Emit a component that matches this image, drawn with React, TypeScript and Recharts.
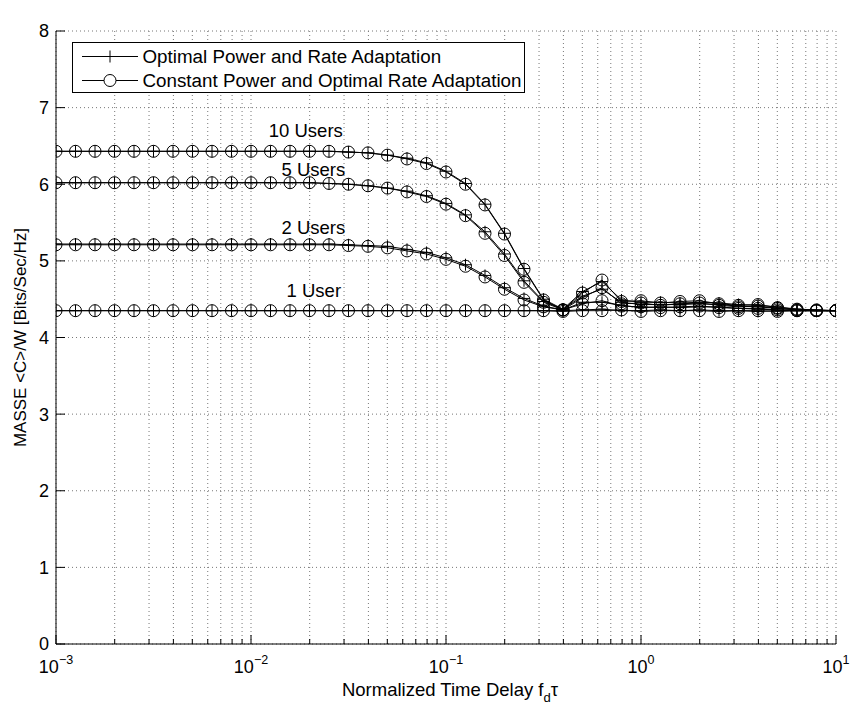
import React from 'react';
import { LineChart, Line, XAxis, YAxis, CartesianGrid, Legend, ReferenceDot } from 'recharts';

const FONT = '"Liberation Sans", Arial, Helvetica, sans-serif';

// Normalized time delay f_d*tau (log spaced samples)
const delays = [
  0.001, 0.001259, 0.001585, 0.001995, 0.002512, 0.003162, 0.003981, 0.005012, 0.00631, 0.007943,
  0.01, 0.01259, 0.01585, 0.01995, 0.02512, 0.03162, 0.03981, 0.05012, 0.0631, 0.07943,
  0.1, 0.1259, 0.1585, 0.1995, 0.2512, 0.3162, 0.3981, 0.5012, 0.631, 0.7943,
  1, 1.259, 1.585, 1.995, 2.512, 3.162, 3.981, 5.012, 6.31, 7.943, 10,
];

// Constant Power and Optimal Rate Adaptation
const users10Const = [
  6.43, 6.43, 6.43, 6.43, 6.43, 6.43, 6.43, 6.43, 6.43, 6.43, 6.43, 6.43, 6.43, 6.43,
  6.43, 6.42, 6.41, 6.38, 6.33, 6.27, 6.16, 6.0, 5.73, 5.35, 4.89, 4.49, 4.36,
  4.58, 4.75, 4.47, 4.48, 4.45, 4.47, 4.48, 4.44, 4.42, 4.43, 4.39, 4.37, 4.36, 4.35,
];
const users5Const = [
  6.02, 6.02, 6.02, 6.02, 6.02, 6.02, 6.02, 6.02, 6.02, 6.02, 6.02, 6.02, 6.02, 6.02,
  6.01, 6.0, 5.98, 5.95, 5.9, 5.84, 5.74, 5.59, 5.36, 5.07, 4.72, 4.46, 4.36,
  4.52, 4.65, 4.44, 4.45, 4.42, 4.44, 4.45, 4.42, 4.4, 4.41, 4.38, 4.36, 4.35, 4.35,
];
const users2Const = [
  5.21, 5.21, 5.21, 5.21, 5.21, 5.21, 5.21, 5.21, 5.21, 5.21, 5.21, 5.21, 5.21, 5.21,
  5.21, 5.2, 5.19, 5.17, 5.13, 5.09, 5.02, 4.93, 4.79, 4.63, 4.49, 4.4, 4.36,
  4.44, 4.48, 4.41, 4.4, 4.39, 4.4, 4.41, 4.39, 4.38, 4.38, 4.36, 4.35, 4.35, 4.35,
];
const users1Const = [
  4.35, 4.35, 4.35, 4.35, 4.35, 4.35, 4.35, 4.35, 4.35, 4.35, 4.35, 4.35, 4.35, 4.35,
  4.35, 4.35, 4.35, 4.35, 4.35, 4.35, 4.35, 4.35, 4.35, 4.35, 4.35, 4.35, 4.34,
  4.35, 4.35, 4.36, 4.34, 4.35, 4.35, 4.35, 4.34, 4.35, 4.35, 4.34, 4.35, 4.35, 4.35,
];

// Optimal Power and Rate Adaptation
const users10Opt = [
  6.43, 6.43, 6.43, 6.43, 6.43, 6.43, 6.43, 6.43, 6.43, 6.43, 6.43, 6.43, 6.43, 6.43,
  6.43, 6.42, 6.41, 6.38, 6.34, 6.28, 6.17, 6.01, 5.74, 5.36, 4.9, 4.5, 4.37,
  4.6, 4.73, 4.49, 4.46, 4.46, 4.45, 4.46, 4.45, 4.43, 4.42, 4.4, 4.37, 4.36, 4.35,
];
const users5Opt = [
  6.02, 6.02, 6.02, 6.02, 6.02, 6.02, 6.02, 6.02, 6.02, 6.02, 6.02, 6.02, 6.02, 6.02,
  6.01, 6.0, 5.98, 5.95, 5.91, 5.85, 5.75, 5.6, 5.38, 5.09, 4.74, 4.47, 4.37,
  4.54, 4.63, 4.46, 4.43, 4.43, 4.43, 4.44, 4.43, 4.41, 4.4, 4.38, 4.36, 4.35, 4.35,
];
const users2Opt = [
  5.22, 5.22, 5.22, 5.22, 5.22, 5.22, 5.22, 5.22, 5.22, 5.22, 5.22, 5.22, 5.22, 5.22,
  5.22, 5.21, 5.2, 5.19, 5.15, 5.11, 5.04, 4.95, 4.81, 4.65, 4.51, 4.41, 4.36,
  4.46, 4.46, 4.42, 4.39, 4.4, 4.39, 4.4, 4.4, 4.38, 4.37, 4.36, 4.35, 4.35, 4.35,
];
const users1Opt = [
  4.35, 4.35, 4.35, 4.35, 4.35, 4.35, 4.35, 4.35, 4.35, 4.35, 4.35, 4.35, 4.35, 4.35,
  4.35, 4.35, 4.35, 4.35, 4.35, 4.35, 4.35, 4.35, 4.35, 4.35, 4.35, 4.35, 4.35,
  4.36, 4.37, 4.35, 4.35, 4.36, 4.35, 4.36, 4.35, 4.35, 4.34, 4.35, 4.35, 4.35, 4.35,
];

const xTicks = [
  0.001, 0.002, 0.003, 0.004, 0.005, 0.006, 0.007, 0.008, 0.009,
  0.01, 0.02, 0.03, 0.04, 0.05, 0.06, 0.07, 0.08, 0.09,
  0.1, 0.2, 0.3, 0.4, 0.5, 0.6, 0.7, 0.8, 0.9,
  1, 2, 3, 4, 5, 6, 7, 8, 9, 10,
];
const xMajorTicks = [0.001, 0.01, 0.1, 1, 10];
const xMajorExponents = ['\u22123', '\u22122', '\u22121', '0', '1'];
const yTicks = [0, 1, 2, 3, 4, 5, 6, 7, 8];

const curveLabels = [
  { text: '10 Users', x: 0.0191, y: 6.7 },
  { text: '5 Users', x: 0.0209, y: 6.19 },
  { text: '2 Users', x: 0.0209, y: 5.44 },
  { text: '1 User', x: 0.021, y: 4.61 },
];

const seriesKeys = [
  { key: 'o10', values: users10Opt, marker: 'plus' },
  { key: 'c10', values: users10Const, marker: 'circle' },
  { key: 'o5', values: users5Opt, marker: 'plus' },
  { key: 'c5', values: users5Const, marker: 'circle' },
  { key: 'o2', values: users2Opt, marker: 'plus' },
  { key: 'c2', values: users2Const, marker: 'circle' },
  { key: 'o1', values: users1Opt, marker: 'plus' },
  { key: 'c1', values: users1Const, marker: 'circle' },
];

const data = delays.map((x, i) => {
  const row: Record<string, number> = { x };
  seriesKeys.forEach((s) => {
    row[s.key] = s.values[i];
  });
  return row;
});

const PlusDot = (p: any) => {
  if (p.cx == null || p.cy == null) return <g key={p.index} />;
  return (
    <path
      key={p.index}
      d={`M${p.cx - 6},${p.cy}h12M${p.cx},${p.cy - 6}v12`}
      stroke="#000"
      strokeWidth={1}
      fill="none"
    />
  );
};
const CircleDot = (p: any) => {
  if (p.cx == null || p.cy == null) return <g key={p.index} />;
  return <circle key={p.index} cx={p.cx} cy={p.cy} r={6} fill="none" stroke="#000" strokeWidth={1} />;
};

const BottomTick = (p: any) => {
  const { x, y, payload } = p;
  const idx = xMajorTicks.indexOf(payload.value);
  const major = idx >= 0;
  return (
    <g>
      <line x1={x} x2={x} y1={y} y2={y - (major ? 9 : 5)} stroke="#000" strokeWidth={1} />
      {major && (
        <text x={x} y={y + 29} textAnchor="middle" fontFamily={FONT} fontSize={18} fill="#000">
          10
          <tspan dy={-9} fontSize={12.5}>
            {xMajorExponents[idx]}
          </tspan>
        </text>
      )}
    </g>
  );
};
const TopTick = (p: any) => {
  const { x, y, payload } = p;
  const major = xMajorTicks.indexOf(payload.value) >= 0;
  return <line x1={x} x2={x} y1={y} y2={y + (major ? 9 : 5)} stroke="#000" strokeWidth={1} />;
};
const LeftTick = (p: any) => {
  const { x, y, payload } = p;
  return (
    <g>
      <line x1={x} x2={x + 9} y1={y} y2={y} stroke="#000" strokeWidth={1} />
      <text x={x - 7} y={y} dy="0.36em" textAnchor="end" fontFamily={FONT} fontSize={18} fill="#000">
        {payload.value}
      </text>
    </g>
  );
};
const RightTick = (p: any) => {
  const { x, y } = p;
  return <line x1={x} x2={x - 9} y1={y} y2={y} stroke="#000" strokeWidth={1} />;
};

const LegendBox = () => (
  <svg width={453} height={51} style={{ display: 'block' }}>
    <rect x={0.5} y={0.5} width={452} height={50} fill="#fff" stroke="#000" strokeWidth={1} />
    <line x1={10} x2={66} y1={14.5} y2={14.5} stroke="#000" />
    <path d="M32,14.5h12M38,8.5v12" stroke="#000" fill="none" />
    <text x={70.5} y={14.5} dy="0.36em" fontFamily={FONT} fontSize={18.8} fill="#000">
      Optimal Power and Rate Adaptation
    </text>
    <line x1={10} x2={66} y1={38.5} y2={38.5} stroke="#000" />
    <circle cx={38} cy={38.5} r={6} fill="#fff" stroke="#000" />
    <text x={70.5} y={38.5} dy="0.36em" fontFamily={FONT} fontSize={18.8} fill="#000">
      Constant Power and Optimal Rate Adaptation
    </text>
  </svg>
);

export default function App() {
  return (
    <div style={{ position: 'absolute', left: 0, top: 0, width: 852, height: 704, background: '#fff' }}>
      <LineChart width={852} height={704} data={data} margin={{ top: 31, right: 16, bottom: 0, left: 0 }}>
        <CartesianGrid stroke="#777" strokeDasharray="1 3" strokeWidth={1} />
        <XAxis
          dataKey="x"
          type="number"
          scale="log"
          domain={[0.001, 10]}
          allowDataOverflow
          ticks={xTicks}
          interval={0}
          height={60}
          tickSize={0}
          tickMargin={0}
          tick={BottomTick}
          axisLine={{ stroke: '#000', strokeWidth: 1 }}
          tickLine={false}
          label={{
            content: (p: any) => {
              const vb = p.viewBox;
              return (
                <text x={vb.x + vb.width / 2 + 4} y={vb.y + 52} textAnchor="middle" fontFamily={FONT} fontSize={18.5} fill="#000">
                  Normalized Time Delay f
                  <tspan dy={6} fontSize={13}>d</tspan>
                  <tspan dy={-6}>τ</tspan>
                </text>
              );
            },
          }}
        />
        <XAxis
          xAxisId="top"
          dataKey="x"
          type="number"
          scale="log"
          domain={[0.001, 10]}
          allowDataOverflow
          ticks={xTicks}
          interval={0}
          orientation="top"
          height={0}
          tickSize={0}
          tickMargin={0}
          tick={TopTick}
          axisLine={{ stroke: '#000', strokeWidth: 1 }}
          tickLine={false}
          label={{
            content: (p: any) => {
              const vb = p.viewBox;
              return (
                <text x={vb.x + vb.width / 2 + 3} y={vb.y - 11} textAnchor="middle" fontFamily={FONT} fontSize={18.5} fill="#000">
                  Average MASSE Degradation due to Scheduling Delay
                </text>
              );
            },
          }}
        />
        <YAxis
          type="number"
          domain={[0, 8]}
          ticks={yTicks}
          interval={0}
          width={56}
          tickSize={0}
          tickMargin={0}
          tick={LeftTick}
          axisLine={{ stroke: '#000', strokeWidth: 1 }}
          tickLine={false}
          label={{
            content: (p: any) => {
              const vb = p.viewBox;
              const cy = vb.y + vb.height / 2;
              return (
                <text
                  x={26}
                  y={cy}
                  transform={`rotate(-90, 26, ${cy})`}
                  textAnchor="middle"
                  fontFamily={FONT}
                  fontSize={17}
                  fill="#000"
                >
                  MASSE &lt;C&gt;/W [Bits/Sec/Hz]
                </text>
              );
            },
          }}
        />
        <YAxis
          yAxisId="right"
          orientation="right"
          type="number"
          domain={[0, 8]}
          ticks={yTicks}
          interval={0}
          width={0}
          tickSize={0}
          tickMargin={0}
          tick={RightTick}
          axisLine={{ stroke: '#000', strokeWidth: 1 }}
          tickLine={false}
        />
        {seriesKeys.map((s) => (
          <Line
            key={s.key}
            dataKey={s.key}
            type="linear"
            stroke="#000"
            strokeWidth={1}
            dot={s.marker === 'plus' ? PlusDot : CircleDot}
            activeDot={false}
            isAnimationActive={false}
          />
        ))}
        {curveLabels.map((c) => (
          <ReferenceDot
            key={c.text}
            x={c.x}
            y={c.y}
            r={0}
            shape={(p: any) => (
              <text x={p.cx} y={p.cy} dy="0.36em" textAnchor="middle" fontFamily={FONT} fontSize={18.5} fill="#000">
                {c.text}
              </text>
            )}
          />
        ))}
        <Legend
          verticalAlign="middle"
          align="center"
          layout="horizontal"
          wrapperStyle={{ position: 'absolute', left: 72, top: 42, width: 453, height: 51, margin: 0, padding: 0 }}
          content={() => <LegendBox />}
        />
      </LineChart>
    </div>
  );
}
